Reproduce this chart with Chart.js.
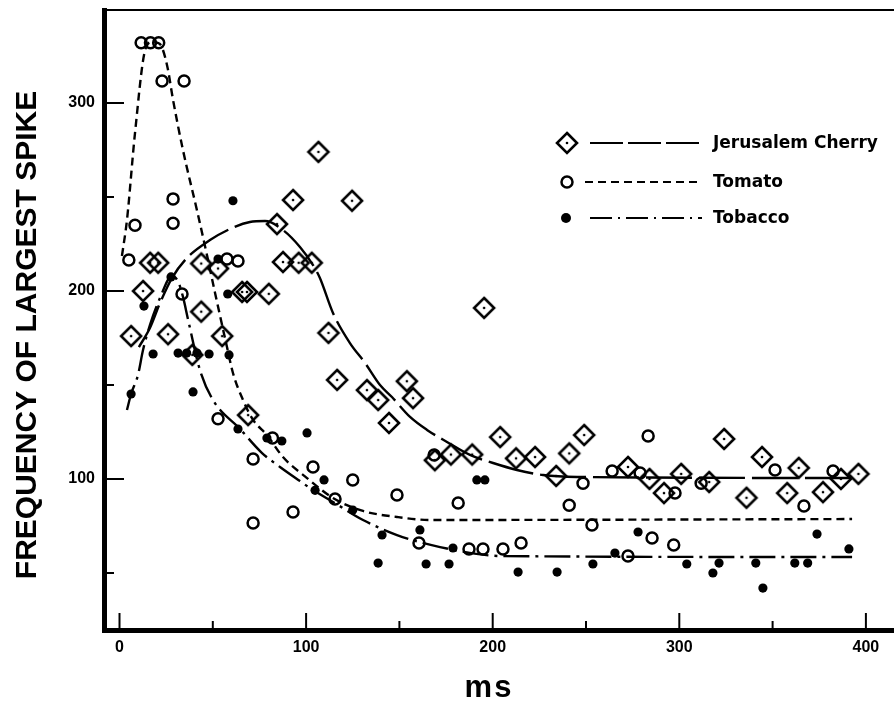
<!DOCTYPE html>
<html>
<head>
<meta charset="utf-8">
<script src="https://cdn.jsdelivr.net/npm/chart.js@4.4.1/dist/chart.umd.min.js"></script>
<style>
  html, body { margin: 0; padding: 0; background: #fff; overflow: hidden; }
  #wrap { width: 894px; height: 703px; position: relative; }
  #spikeChart { display: block; }
</style>
</head>
<body>
<div id="wrap"><canvas id="spikeChart"></canvas></div>
<script>
const cherryX = [6.2, 12.6, 16.4, 20.7, 26, 39, 43.8, 43.8, 52.8, 55, 65.7, 68.3, 68.9, 80, 84.4, 87.6, 93, 96, 103, 106.6,
    112, 116.6, 124.6, 132.6, 138.6, 144.4, 154, 157.3, 169, 177.6, 189, 195.4, 204, 212.5, 222.7, 234, 241, 249,
    272.5, 284, 291.8, 301, 316, 324, 336, 344.3, 357.8, 364, 377, 386.6, 396];
const cherryY = [176, 200, 215, 215, 177, 166, 189, 214.6, 212, 176, 199.5, 199.5, 134, 198.5, 235.6, 215.4, 248.4, 215, 215, 274,
    177.7, 152.7, 248, 147.3, 142, 129.8, 152, 143, 110, 113, 113, 191, 122.3, 111, 111.7, 101.6, 113.6, 123.4,
    106.4, 100, 92.5, 102.7, 98.4, 121.3, 90, 111.7, 92.5, 105.9, 93, 100, 102.7];

const tomatoX = [5, 8.3, 11.6, 16.6, 21, 22.8, 28.7, 28.7, 33.5, 34.6, 52.8, 57.6, 63.5, 71.6, 71.6, 82, 93, 103.7, 115.5, 125,
    148.7, 160.5, 168.6, 181.5, 187.3, 194.8, 205.5, 215.2, 241, 248.4, 253.2, 264, 272.5, 279, 283.3, 285.4, 297,
    297.7, 311.7, 351.3, 366.8, 382.4];
const tomatoY = [216.5, 235, 332, 332, 332, 311.7, 249, 236, 198.4, 311.7, 132, 217, 216, 110.6, 76.6, 121.8, 82.4, 106.4, 89.4, 99.5,
    91.5, 66, 112.8, 87.2, 62.8, 62.8, 62.8, 66, 86, 97.7, 75.5, 104.3, 59, 103.2, 122.9, 68.6, 64.9,
    92.5, 97.7, 104.8, 85.6, 104.3];

const tobaccoX = [6.2, 13.1, 18, 27.6, 31.4, 36, 39.4, 41.5, 48, 52.8, 58, 58.7, 60.8, 63.5, 79, 87, 100.5, 104.8, 109.6, 125,
    138.6, 140.7, 161, 164.3, 176.6, 178.7, 191.5, 195.8, 213.6, 234.5, 253.7, 265.5, 277.9, 304, 318, 321.3, 341,
    344.8, 361.9, 368.8, 373.8, 390.9];
const tobaccoY = [145.2, 192, 166.5, 207.5, 167, 167, 146.3, 167, 166.5, 217, 198.4, 166, 248, 126.6, 121.8, 120.2, 124.5, 94, 99.5, 83.5,
    55.3, 70.2, 72.9, 54.8, 54.8, 63.3, 99.5, 99.5, 50.5, 50.5, 54.8, 60.6, 71.8, 54.8, 50, 55.3, 55.3,
    42, 55.3, 55.3, 70.7, 62.8];

// fitted curves as drawn in the figure
const cherryCurveX = [10.4, 16.3, 21.7, 28.1, 36.2, 48.5, 59.2, 69.9, 78, 87.6, 96.7, 103.7, 107.4, 114.4, 123.5, 131.6,
    139.6, 146, 155.7, 164.8, 175.5, 187.8, 200.2, 213, 227, 245.2, 393.1];
const cherryCurveY = [170.2, 180.3, 193.6, 206.9, 217.6, 227.1, 233, 236.7, 237.2, 232.4, 223.4, 213.8, 206.9, 188.3, 172.3, 161.7,
    150, 143.6, 133, 126.1, 119.7, 112.8, 108.5, 104.8, 102.1, 101.1, 100.5];

const tomatoCurveX = [1.3, 4, 8.3, 13.7, 17.4, 21.5, 25.5, 28.7, 34, 41.5, 46.9, 51.2, 57.6, 60.8, 66.2, 71.6, 79, 87.6,
    100.5, 114.4, 130.5, 148.7, 166.4, 392.6];
const tomatoCurveY = [218.6, 237.8, 284, 328, 332.4, 331.5, 320, 301.6, 275, 243, 219, 199, 170.2, 156.4, 142, 131.4, 123.4, 111.7,
    100.5, 89.9, 83, 79.8, 78.2, 78.7];

const tobaccoCurveX = [4, 6.2, 9.9, 12.6, 16.3, 21.7, 28.1, 31.4, 34, 36.7, 43.1, 50.1, 64.6, 76.4, 86, 96.7, 103.7, 114.4,
    130.5, 148.7, 171.8, 205.5, 392.6];
const tobaccoCurveY = [136.7, 145.2, 155.3, 168.6, 181.9, 196.3, 208, 205, 197, 185, 158, 142, 126.6, 113.8, 106.4, 98.9, 94.1, 87.8,
    78.2, 70.2, 63.8, 59, 58.5];

const xTickLabels = [0, 100, 200, 300, 400];
const yTickLabels = [100, 200, 300];

function pairs(xs, ys) {
    return xs.map((x, i) => ({ x: x, y: ys[i] }));
}

// diamond with a dot in the middle
function makeDiamond(r) {
    const c = document.createElement("canvas");
    const s = Math.ceil(r * 2 + 6);
    c.width = s;
    c.height = s;
    const g = c.getContext("2d");
    const m = s / 2;
    g.strokeStyle = "#000";
    g.lineWidth = 2.6;
    g.beginPath();
    g.moveTo(m, m - r);
    g.lineTo(m + r, m);
    g.lineTo(m, m + r);
    g.lineTo(m - r, m);
    g.closePath();
    g.stroke();
    g.fillStyle = "#000";
    g.beginPath();
    g.arc(m, m, 1.3, 0, Math.PI * 2);
    g.fill();
    return c;
}
const diamond = makeDiamond(10);

const cherryDash = [46, 7];
const tomatoDash = [8, 5];
const tobaccoDash = [26, 6, 3, 6];

// the axis edge padding chart.js adds for labels would shift the plot box
function fixBox(size, key) {
    return function (scale) {
        scale[key] = size;
        scale.paddingLeft = 0;
        scale.paddingRight = 0;
        scale.paddingTop = 0;
        scale.paddingBottom = 0;
    };
}

const tickMarks = {
    id: "tickMarks",
    afterDraw(chart) {
        const { ctx, chartArea, scales } = chart;
        ctx.save();
        ctx.strokeStyle = "#000";
        ctx.lineWidth = 2;
        scales.x.ticks.forEach(t => {
            const px = scales.x.getPixelForValue(t.value);
            const len = t.value % 100 === 0 ? 17 : 9;
            ctx.beginPath();
            ctx.moveTo(px, chartArea.bottom);
            ctx.lineTo(px, chartArea.bottom - len);
            ctx.stroke();
        });
        scales.y.ticks.forEach(t => {
            const py = scales.y.getPixelForValue(t.value);
            const len = t.value % 100 === 0 ? 20 : 10;
            ctx.beginPath();
            ctx.moveTo(chartArea.left, py);
            ctx.lineTo(chartArea.left + len, py);
            ctx.stroke();
        });
        ctx.beginPath();
        ctx.moveTo(chartArea.left, chartArea.top);
        ctx.lineTo(chartArea.right, chartArea.top);
        ctx.stroke();

        // axis titles
        ctx.fillStyle = "#000";
        ctx.textAlign = "center";
        ctx.textBaseline = "middle";
        ctx.font = "bold 30px 'Liberation Sans'";
        ctx.save();
        ctx.translate(28, 335);
        ctx.rotate(-Math.PI / 2);
        ctx.fillText("FREQUENCY OF LARGEST SPIKE", 0, 0);
        ctx.restore();
        ctx.font = "bold 31px 'Liberation Sans'";
        ctx.letterSpacing = "2px";
        ctx.fillText("ms", 489, 688);
        ctx.restore();
    }
};

const legendBox = {
    id: "legendBox",
    afterDraw(chart) {
        const ctx = chart.ctx;
        const rows = [
            { y: 143, label: "Jerusalem Cherry", dash: [33, 5], x0: 590 },
            { y: 182, label: "Tomato", dash: tomatoDash, x0: 585 },
            { y: 218, label: "Tobacco", dash: [22, 6, 2, 6], x0: 590 }
        ];
        ctx.save();
        ctx.strokeStyle = "#000";
        ctx.fillStyle = "#000";
        rows.forEach((r, i) => {
            ctx.setLineDash(r.dash);
            ctx.lineWidth = 2.2;
            ctx.beginPath();
            ctx.moveTo(r.x0, r.y);
            ctx.lineTo(702, r.y);
            ctx.stroke();
            ctx.setLineDash([]);
            if (i === 0) {
                ctx.drawImage(diamond, 567 - diamond.width / 2, r.y - diamond.height / 2);
            } else if (i === 1) {
                ctx.lineWidth = 2.5;
                ctx.beginPath();
                ctx.arc(567, r.y, 5.5, 0, Math.PI * 2);
                ctx.stroke();
            } else {
                ctx.beginPath();
                ctx.arc(566, r.y, 5, 0, Math.PI * 2);
                ctx.fill();
            }
            ctx.font = "bold 17px 'DejaVu Sans'";
            ctx.textBaseline = "middle";
            ctx.textAlign = "left";
            ctx.fillText(r.label, 713, r.y + 1);
        });
        ctx.restore();
    }
};

const curveStyle = {
    showLine: true,
    pointRadius: 0,
    borderColor: "#000",
    borderWidth: 2.4,
    fill: false,
    cubicInterpolationMode: "monotone"
};

const ctx = document.getElementById("spikeChart").getContext("2d");
const spikeChart = new Chart(ctx, {
    type: "scatter",
    data: {
        datasets: [
            Object.assign({ label: "Jerusalem Cherry fit", data: pairs(cherryCurveX, cherryCurveY), borderDash: cherryDash }, curveStyle),
            Object.assign({ label: "Tomato fit", data: pairs(tomatoCurveX, tomatoCurveY), borderDash: tomatoDash }, curveStyle),
            Object.assign({ label: "Tobacco fit", data: pairs(tobaccoCurveX, tobaccoCurveY), borderDash: tobaccoDash }, curveStyle),
            {
                label: "Jerusalem Cherry",
                data: pairs(cherryX, cherryY),
                pointStyle: diamond,
                pointRadius: 10
            },
            {
                label: "Tomato",
                data: pairs(tomatoX, tomatoY),
                pointStyle: "circle",
                pointRadius: 5.5,
                borderWidth: 2.5,
                borderColor: "#000",
                backgroundColor: "rgba(0,0,0,0)"
            },
            {
                label: "Tobacco",
                data: pairs(tobaccoX, tobaccoY),
                pointStyle: "circle",
                pointRadius: 4.6,
                borderWidth: 0,
                backgroundColor: "#000"
            }
        ]
    },
    options: {
        responsive: true,
        maintainAspectRatio: false,
        animation: false,
        events: [],
        layout: { autoPadding: false, padding: { top: 10, right: 0, left: 0, bottom: 0 } },
        plugins: {
            legend: { display: false },
            tooltip: { enabled: false }
        },
        scales: {
            x: {
                type: "linear",
                min: -8.31,
                max: 415.06,
                afterFit: fixBox(73, "height"),
                grid: { display: false, drawTicks: false },
                border: { display: true, color: "#000", width: 5 },
                ticks: {
                    stepSize: 50,
                    includeBounds: false,
                    autoSkip: false,
                    maxRotation: 0,
                    padding: 8,
                    color: "#000",
                    font: { family: "'Liberation Sans'", size: 16, weight: "bold" },
                    callback: v => xTickLabels.includes(v) ? String(v) : ""
                }
            },
            y: {
                type: "linear",
                min: 19.68,
                max: 349.47,
                afterFit: fixBox(104, "width"),
                grid: { display: false, drawTicks: false },
                border: { display: true, color: "#000", width: 5 },
                ticks: {
                    stepSize: 50,
                    includeBounds: false,
                    autoSkip: false,
                    padding: 9,
                    color: "#000",
                    font: { family: "'Liberation Sans'", size: 16, weight: "bold" },
                    callback: v => yTickLabels.includes(v) ? String(v) : ""
                }
            }
        }
    },
    plugins: [tickMarks, legendBox]
});
</script>
</body>
</html>
